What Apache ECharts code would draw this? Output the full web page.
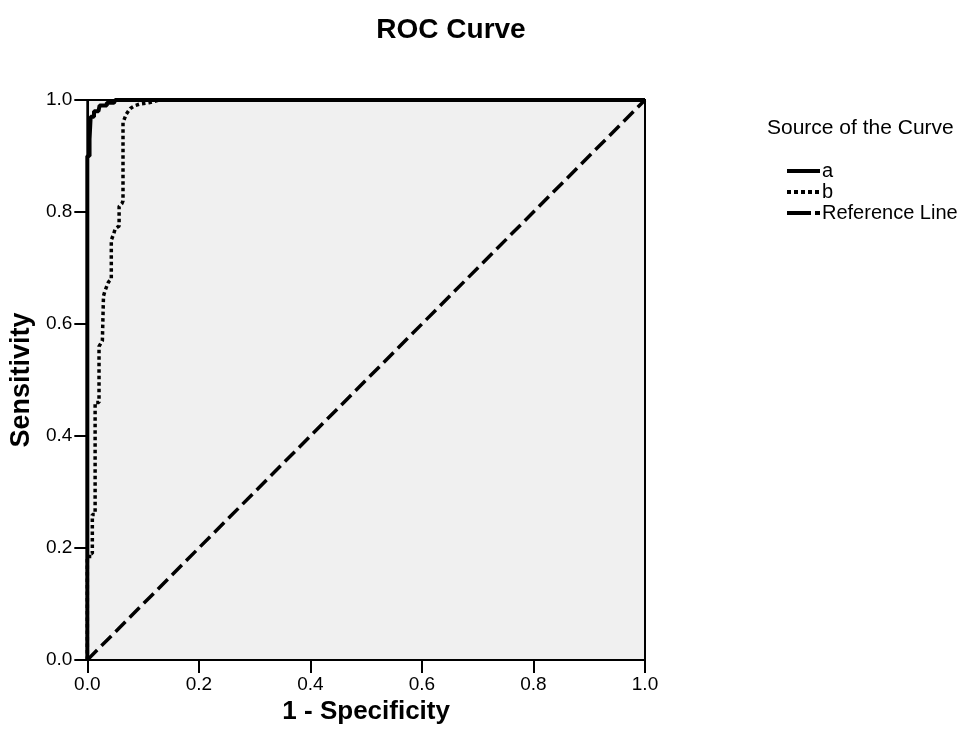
<!DOCTYPE html>
<html>
<head>
<meta charset="utf-8">
<script src="https://cdn.jsdelivr.net/npm/echarts@6/dist/echarts.min.js"></script>
<style>
html,body{margin:0;padding:0;background:#fff;}
#chart{width:972px;height:746px;}
</style>
</head>
<body>
<div id="chart"></div>
<script>
// ---- data ----
const tickLabels = ['0.0', '0.2', '0.4', '0.6', '0.8', '1.0'];
const seriesNames = ['a', 'b', 'Reference Line'];
const fprA = [0, 0, 0.004, 0.004, 0.006, 0.006, 0.012, 0.012, 0.02, 0.022, 0.035, 0.035, 0.048, 0.05, 1];
const tprA = [0, 0.90, 0.90, 0.93, 0.93, 0.97, 0.97, 0.98, 0.98, 0.99, 0.99, 0.995, 0.995, 1, 1];
const fprB = [0, 0, 0.004, 0.004, 0.009, 0.009, 0.014, 0.014, 0.021, 0.021, 0.027, 0.029, 0.032, 0.038, 0.043, 0.043, 0.047, 0.05, 0.057, 0.057, 0.062, 0.064, 0.064, 0.07, 0.077, 0.085, 0.095, 0.11, 0.13, 1];
const tprB = [0, 0.18, 0.18, 0.19, 0.19, 0.26, 0.26, 0.46, 0.46, 0.56, 0.57, 0.65, 0.66, 0.675, 0.68, 0.75, 0.76, 0.77, 0.775, 0.81, 0.815, 0.82, 0.96, 0.975, 0.985, 0.99, 0.993, 0.995, 1.0, 1.0];
const refX = [0, 1];
const refY = [0, 1];

const zip = (xs, ys) => xs.map((x, i) => [x, ys[i]]);

const chart = echarts.init(document.getElementById('chart'), null, {renderer: 'canvas'});
const FONT = 'Liberation Sans, Arial, sans-serif';

const axisCommon = {
  type: 'value', min: 0, max: 1, interval: 0.2,
  axisLine: {show: true, lineStyle: {color: '#000', width: 2}},
  axisTick: {show: true, inside: false, length: 13, lineStyle: {color: '#000', width: 2}},
  splitLine: {show: false},
  axisLabel: {
    color: '#000', fontSize: 19, fontFamily: FONT,
    formatter: v => tickLabels[Math.round(v / 0.2)]
  },
  nameLocation: 'middle',
  nameTextStyle: {color: '#000', fontSize: 26, fontWeight: 'bold', fontFamily: FONT}
};

chart.setOption({
  animation: false,
  backgroundColor: '#fff',
  title: [
    {text: 'ROC Curve', left: 446, top: 11, textAlign: 'center',
     textStyle: {color: '#000', fontSize: 28, fontWeight: 'bold', fontFamily: FONT}},
    {text: 'Source of the Curve', left: 762, top: 113,
     textStyle: {color: '#000', fontSize: 21, fontWeight: 'normal', fontFamily: FONT}}
  ],
  legend: {
    orient: 'vertical', left: 780, top: 156,
    itemWidth: 33, itemHeight: 4, itemGap: 1,
    itemStyle: {opacity: 0},
    lineStyle: {width: 4},
    data: [
      {name: seriesNames[0]},
      {name: seriesNames[1], lineStyle: {type: [4, 3], width: 4}},
      {name: seriesNames[2], lineStyle: {type: [24, 4], width: 4}}
    ],
    textStyle: {color: '#000', fontSize: 20, fontFamily: FONT, lineHeight: 20, padding: [0, 0, 0, -3]},
    selectedMode: false
  },
  grid: {
    left: 87, top: 100, width: 558, height: 560,
    show: true, backgroundColor: '#f0f0f0', borderColor: '#000', borderWidth: 2
  },
  xAxis: Object.assign({}, axisCommon, {
    name: '1 - Specificity', nameGap: 27,
    axisLabel: Object.assign({}, axisCommon.axisLabel, {margin: 15})
  }),
  yAxis: Object.assign({}, axisCommon, {
    name: 'Sensitivity', nameGap: 45, nameRotate: 90,
    nameTextStyle: Object.assign({}, axisCommon.nameTextStyle, {fontSize: 27}),
    axisLabel: Object.assign({}, axisCommon.axisLabel, {margin: 15})
  }),
  series: [
    {name: seriesNames[0], type: 'line', data: zip(fprA, tprA), symbol: 'none',
     lineStyle: {color: '#000', width: 4, type: 'solid'}, itemStyle: {color: '#000'}, z: 4},
    {name: seriesNames[1], type: 'line', data: zip(fprB, tprB), symbol: 'none',
     lineStyle: {color: '#000', width: 3.5, type: [3.5, 3]}, itemStyle: {color: '#000'}, z: 3},
    {name: seriesNames[2], type: 'line', data: zip(refX, refY), symbol: 'none',
     lineStyle: {color: '#000', width: 3.5, type: [14, 6]}, itemStyle: {color: '#000'}, z: 2}
  ]
});
</script>
</body>
</html>
